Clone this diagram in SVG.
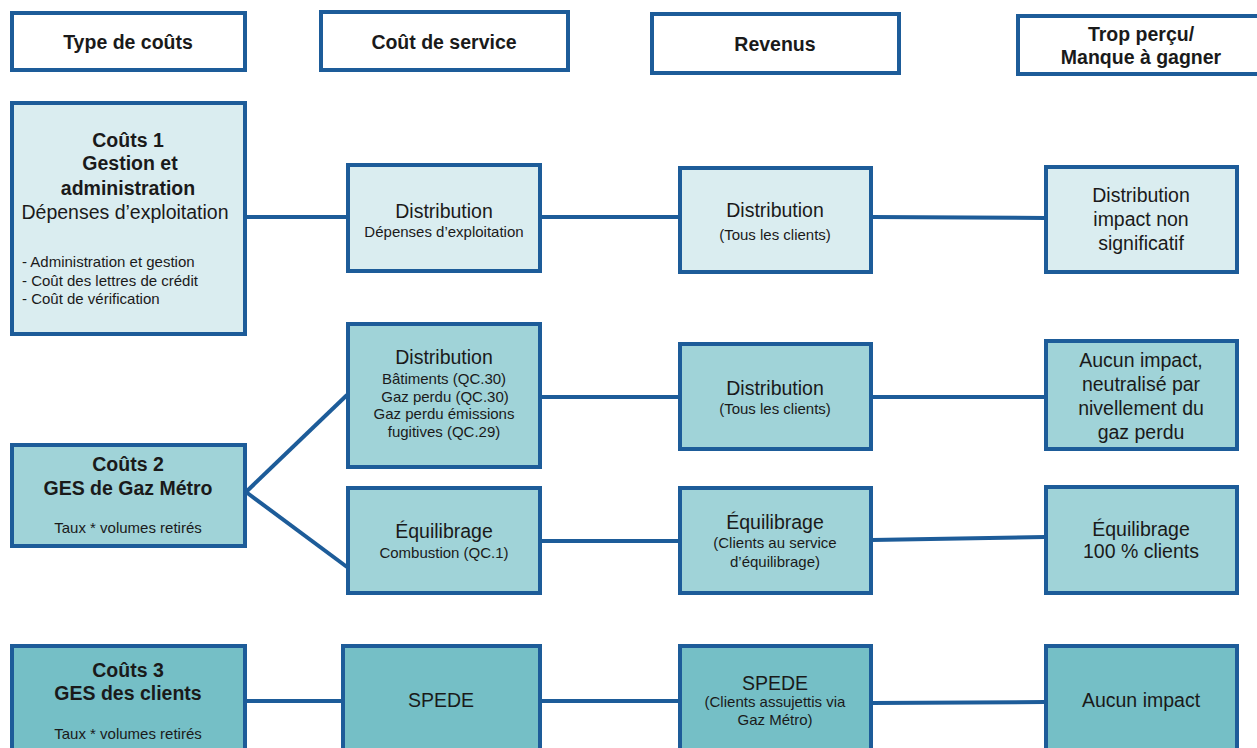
<svg xmlns="http://www.w3.org/2000/svg" width="1257" height="748" viewBox="0 0 1257 748">
<style>
rect{stroke:#1d5c99;stroke-width:4}
.h{fill:#ffffff}
.l{fill:#daedf0}
.m{fill:#a0d3d8}
.d{fill:#75bfc6}
text{font-family:"Liberation Sans",Arial,sans-serif;fill:#1a1a1a;text-anchor:middle}
.b{font-weight:bold;font-size:19.5px}
.t{font-size:19.5px}
.s{font-size:15px}
.c line{stroke:#1d5c99;stroke-width:4}
</style>
<rect width="1257" height="748" fill="#ffffff" style="stroke:none"/>
<g class="c">
<line x1="246" y1="217" x2="347" y2="217"/>
<line x1="540" y1="217" x2="679" y2="217"/>
<line x1="872" y1="217" x2="1045" y2="218"/>
<line x1="246" y1="492" x2="347" y2="395"/>
<line x1="246" y1="492" x2="347" y2="567"/>
<line x1="541" y1="397" x2="679" y2="397"/>
<line x1="872" y1="397" x2="1045" y2="397"/>
<line x1="541" y1="541" x2="679" y2="541"/>
<line x1="872" y1="540" x2="1045" y2="537"/>
<line x1="246" y1="701" x2="342" y2="701"/>
<line x1="541" y1="701" x2="679" y2="701"/>
<line x1="872" y1="703" x2="1045" y2="702"/>
</g>
<g id="h1"><rect class="h" x="12" y="13" width="233" height="57"/><text class="b" x="128" y="49">Type de coûts</text></g>
<g id="h2"><rect class="h" x="321" y="12" width="247" height="58"/><text class="b" x="444" y="49">Coût de service</text></g>
<g id="h3"><rect class="h" x="652" y="14" width="247" height="59"/><text class="b" x="775" y="51">Revenus</text></g>
<g id="h4"><rect class="h" x="1018" y="16" width="245" height="58"/><text class="b" x="1141" y="41">Trop perçu/</text><text class="b" x="1141" y="64">Manque à gagner</text></g>

<g id="c1"><rect class="l" x="12" y="103" width="233" height="231"/>
<text class="b" x="128" y="147">Coûts 1</text>
<text class="b" x="130" y="170">Gestion et</text>
<text class="b" x="128" y="195">administration</text>
<text class="t" x="125" y="219">Dépenses d’exploitation</text>
<text class="s" x="22" y="267" style="text-anchor:start">- Administration et gestion</text>
<text class="s" x="22" y="286" style="text-anchor:start">- Coût des lettres de crédit</text>
<text class="s" x="22" y="304" style="text-anchor:start">- Coût de vérification</text>
</g>
<g id="cos1"><rect class="l" x="348" y="165" width="192" height="106"/>
<text class="t" x="444" y="218">Distribution</text>
<text class="s" x="444" y="237">Dépenses d’exploitation</text></g>
<g id="rev1"><rect class="l" x="680" y="168" width="191" height="104"/>
<text class="t" x="775" y="217">Distribution</text>
<text class="s" x="775" y="240">(Tous les clients)</text></g>
<g id="imp1"><rect class="l" x="1046" y="167" width="191" height="105"/>
<text class="t" x="1141" y="202">Distribution</text>
<text class="t" x="1141" y="226">impact non</text>
<text class="t" x="1141" y="250">significatif</text></g>

<g id="c2"><rect class="m" x="12" y="445" width="233" height="101"/>
<text class="b" x="128" y="471">Coûts 2</text>
<text class="b" x="128" y="495">GES de Gaz Métro</text>
<text class="s" x="128" y="533">Taux * volumes retirés</text></g>
<g id="cos2"><rect class="m" x="348" y="324" width="192" height="143"/>
<text class="t" x="444" y="364">Distribution</text>
<text class="s" x="444" y="384">Bâtiments (QC.30)</text>
<text class="s" x="445" y="402">Gaz perdu (QC.30)</text>
<text class="s" x="444" y="419">Gaz perdu émissions</text>
<text class="s" x="444" y="437">fugitives (QC.29)</text></g>
<g id="rev2"><rect class="m" x="680" y="344" width="191" height="105"/>
<text class="t" x="775" y="395">Distribution</text>
<text class="s" x="775" y="414">(Tous les clients)</text></g>
<g id="imp2"><rect class="m" x="1046" y="341" width="191" height="108"/>
<text class="t" x="1141" y="367">Aucun impact,</text>
<text class="t" x="1141" y="391">neutralisé par</text>
<text class="t" x="1141" y="415">nivellement du</text>
<text class="t" x="1141" y="439">gaz perdu</text></g>
<g id="cos3"><rect class="m" x="348" y="488" width="192" height="105"/>
<text class="t" x="444" y="538">Équilibrage</text>
<text class="s" x="444" y="558">Combustion (QC.1)</text></g>
<g id="rev3"><rect class="m" x="680" y="488" width="191" height="105"/>
<text class="t" x="775" y="529">Équilibrage</text>
<text class="s" x="775" y="548">(Clients au service</text>
<text class="s" x="775" y="567">d’équilibrage)</text></g>
<g id="imp3"><rect class="m" x="1046" y="487" width="191" height="106"/>
<text class="t" x="1141" y="536">Équilibrage</text>
<text class="t" x="1141" y="558">100 % clients</text></g>

<g id="c3"><rect class="d" x="12" y="646" width="233" height="110"/>
<text class="b" x="128" y="677">Coûts 3</text>
<text class="b" x="128" y="700">GES des clients</text>
<text class="s" x="128" y="739">Taux * volumes retirés</text></g>
<g id="cos4"><rect class="d" x="343" y="646" width="197" height="110"/>
<text class="t" x="441" y="707">SPEDE</text></g>
<g id="rev4"><rect class="d" x="680" y="646" width="191" height="110"/>
<text class="t" x="775" y="690">SPEDE</text>
<text class="s" x="775" y="707">(Clients assujettis via</text>
<text class="s" x="775" y="725">Gaz Métro)</text></g>
<g id="imp4"><rect class="d" x="1046" y="646" width="191" height="110"/>
<text class="t" x="1141" y="707">Aucun impact</text></g>
</svg>
